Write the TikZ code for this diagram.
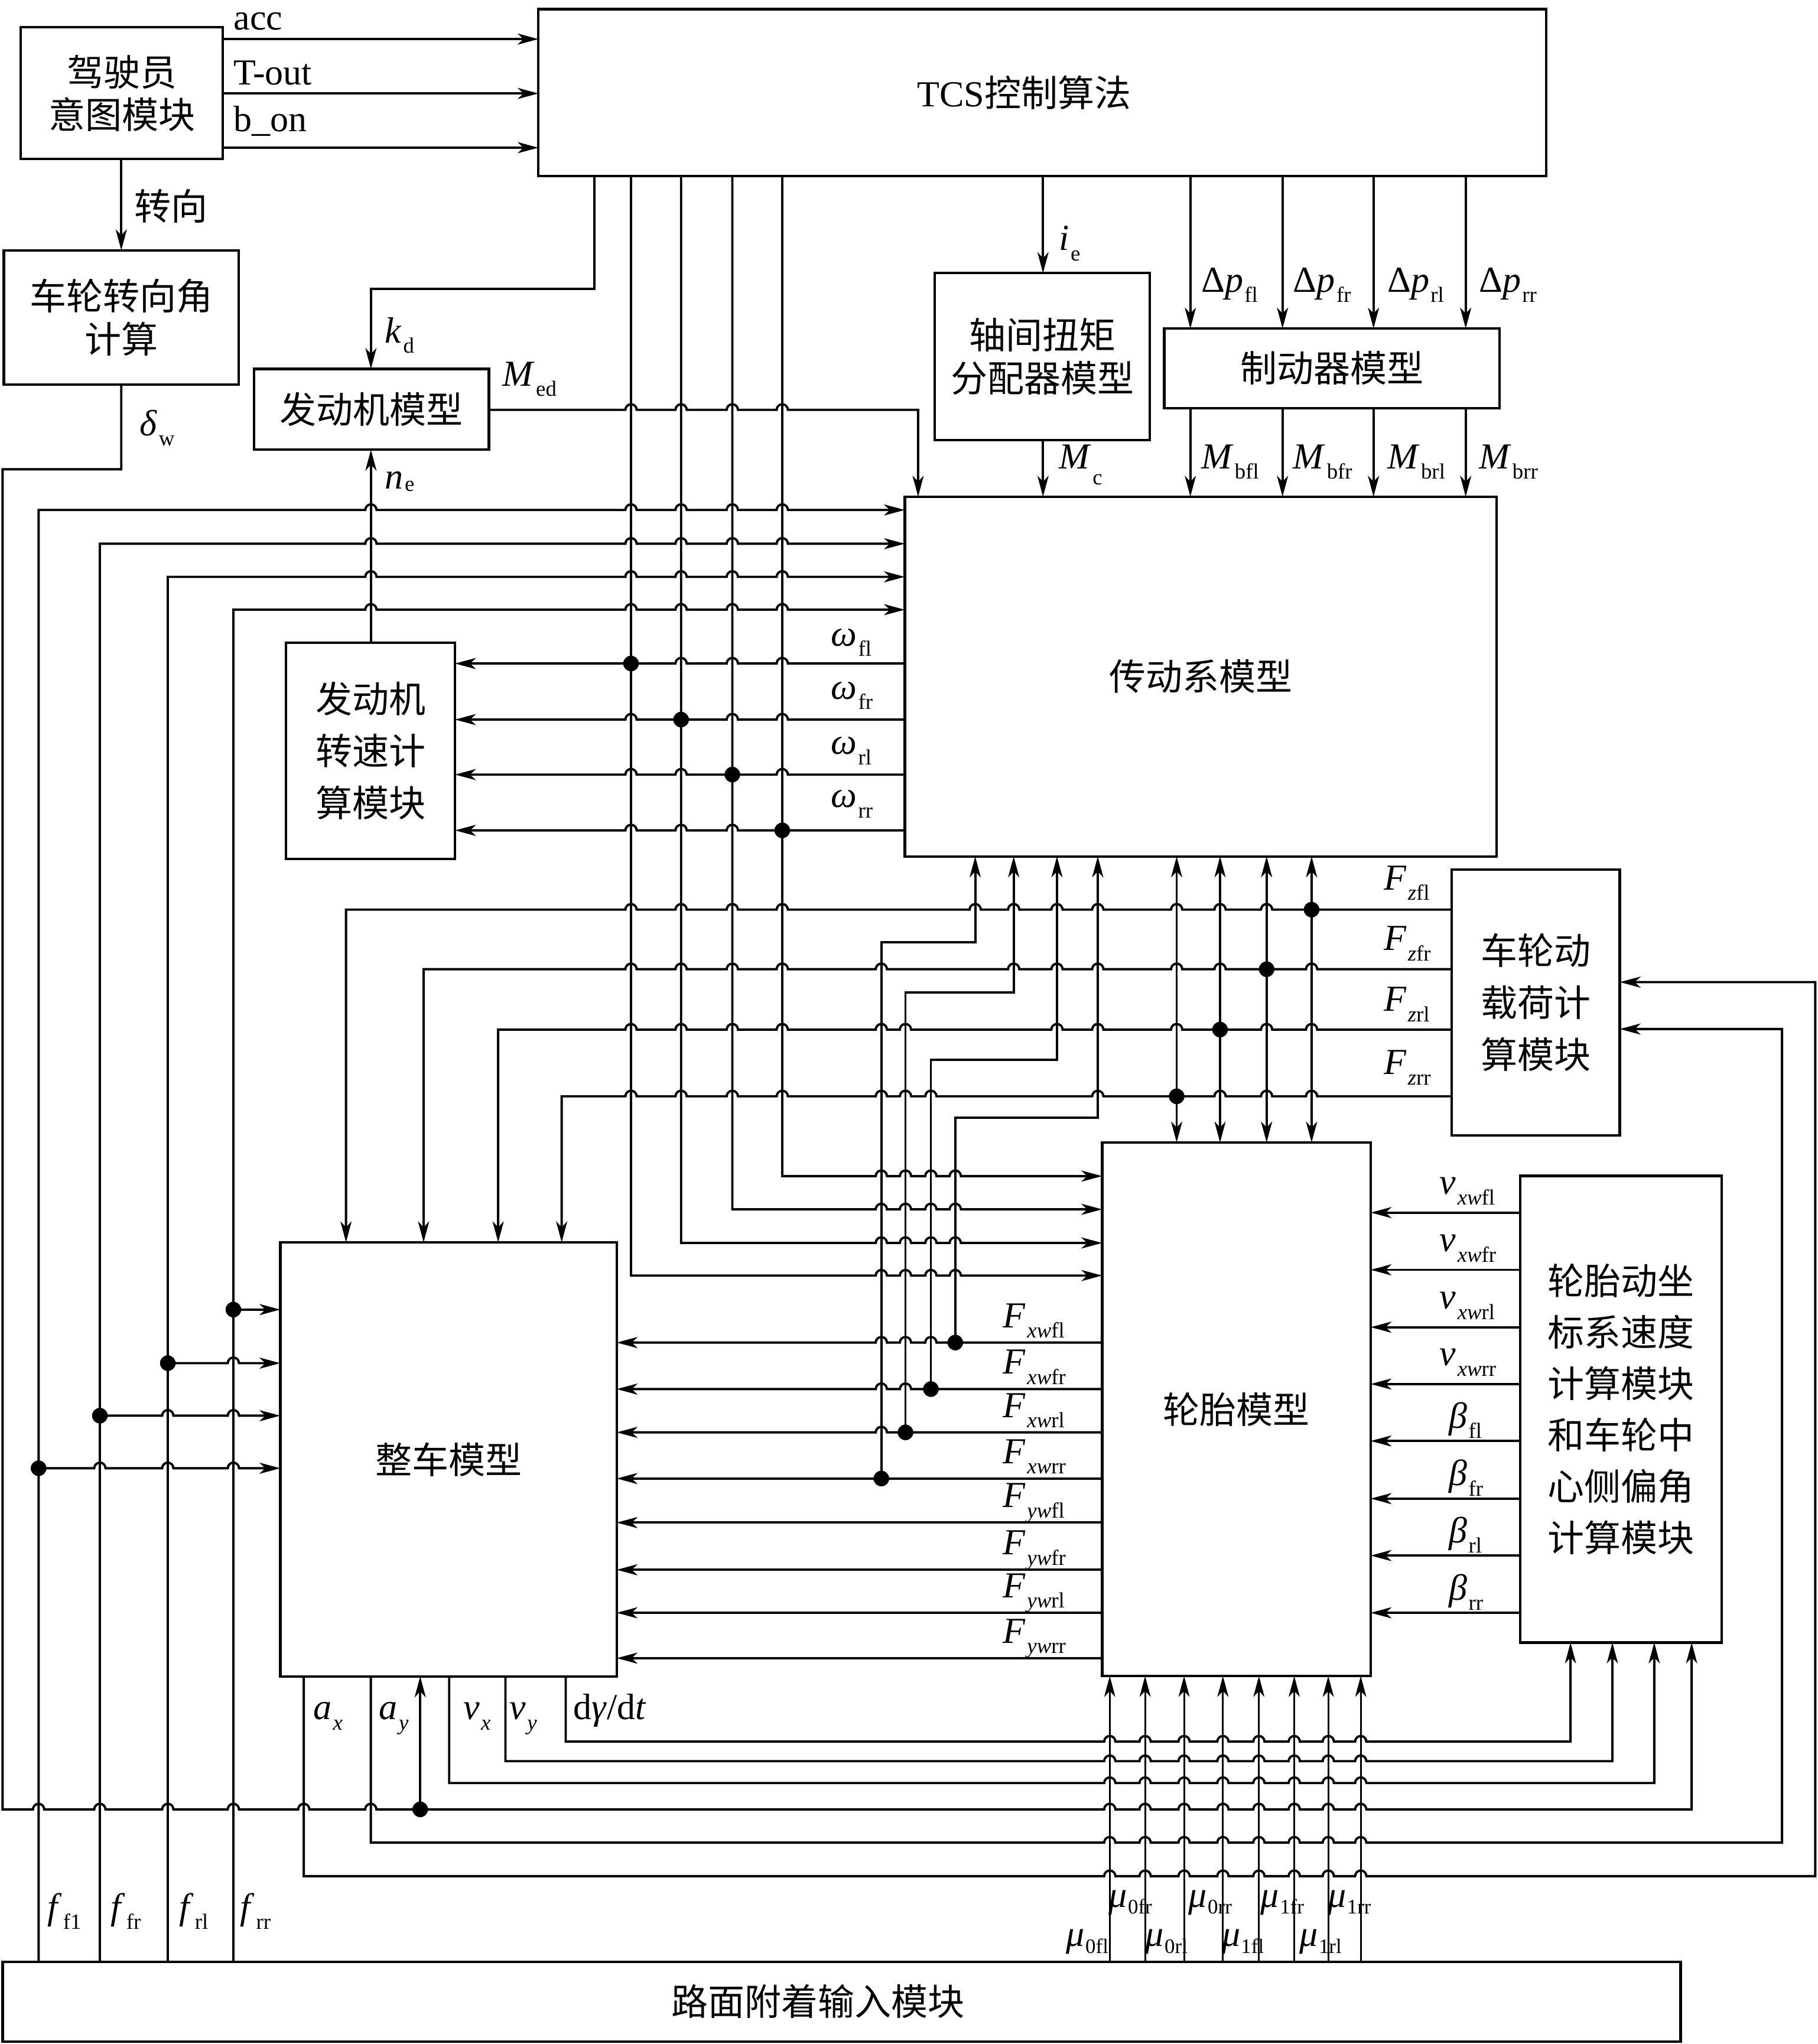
\documentclass[tikz,border=0pt]{standalone}
\usepackage{fontspec}
\setmainfont{Liberation Serif}
\newfontfamily\cjk{Noto Sans CJK SC}
\usetikzlibrary{arrows.meta}
\tikzset{
  ln/.style={line width=1pt},
  thinln/.style={line width=0.75pt},
  >={Stealth[length=0.32cm,width=0.17cm,inset=0.09cm]},
  blk/.style={draw,line width=1.1pt,inner sep=0pt,outer sep=0pt,align=center,
    font=\cjk\fontsize{16}{19}\selectfont},
  bs/.style={font=\cjk\fontsize{16}{#1}\selectfont},
  lbl/.style={inner sep=0pt,font=\fontsize{16}{16}\selectfont},
  cjl/.style={inner sep=0pt,font=\cjk\fontsize{16}{16}\selectfont},
  dotn/.style={circle,fill,inner sep=0pt,minimum size=0.24cm}
}
\newcommand\blk[7][]{\node[blk,minimum width={(#4-#2)*0.02cm},minimum height={(#5-#3)*0.02cm},#1] (#6) at ({(#2+#4)/2},{(#3+#5)/2}) {#7};}
\newcommand\hops[2]{\foreach \hx in {#2} { -- (\hx-4.3,#1) arc[start angle=180,end angle=0,radius=0.086cm] }}
\newcommand\vs[2]{\textit{#1}\kern0.6pt\raisebox{-4.5pt}{\fontsize{9.5}{9.5}\selectfont #2}}
\newcommand\vsl[3]{\textit{#1}\kern0.6pt\raisebox{#3}{\fontsize{9.5}{9.5}\selectfont #2}}
\newcommand\mus[1]{\textit{μ}\kern0.3pt\raisebox{-3pt}{\fontsize{9}{9}\selectfont #1}}
\begin{document}
\begin{tikzpicture}[x=0.02cm,y=-0.02cm]
\fill[white] (0,0) rectangle (1394,1568);
\useasboundingbox (0,0) rectangle (1394,1568);

% ---------- blocks ----------
\blk[bs=18.7]{16}{21}{171}{122}{drv}{驾驶员\\意图模块}
\blk{413}{7}{1186}{135}{tcs}{{\rmfamily TCS}控制算法\hspace*{0.56cm}}
\blk[bs=18.7]{3}{192}{183}{295}{whl}{车轮转向角\\计算}
\blk{195}{283}{375}{345}{eng}{发动机模型}
\blk[bs=18.7]{717}{209.5}{882}{337.5}{axl}{轴间扭矩\\分配器模型}
\blk{893}{252}{1150}{313}{brk}{制动器模型}
\blk{694}{381}{1148}{657}{drt}{传动系模型}
\blk[bs=22.7]{219.4}{493}{349}{659}{esp}{发动机\\转速计\\算模块}
\blk{215}{953}{473}{1286}{veh}{整车模型}
\blk{845.4}{876.4}{1051.3}{1285.7}{tire}{轮胎模型}
\blk[bs=22.7]{1113.5}{667}{1242.4}{871}{load}{车轮动\\载荷计\\算模块}
\blk[bs=22.4]{1166}{902}{1320.6}{1260}{kin}{轮胎动坐\\标系速度\\计算模块\\和车轮中\\心侧偏角\\计算模块}
\blk{2}{1505}{1289}{1566}{road}{路面附着输入模块\hspace*{0.72cm}}

% ---------- driver -> TCS ----------
\foreach \yy in {30,71.7,113.3} \draw[ln,->] (drv.east |- 0,\yy) -- (tcs.west |- 0,\yy);
\draw[ln,->] (93,0 |- drv.south) -- (93,0 |- whl.north);

% ---------- delta_w loop ----------
\draw[ln,->] (93,0 |- whl.south) -- (93,360) -- (2,360) -- (2,1388)
  \hops{1388}{29.6,76.6,128.7,179,233,284.4,851.2,878.3,908.2,938,965.6,992.7,1018.8,1043.7}
  -- (1297.5,1388) -- (1297.5,0 |- kin.south);
\node[dotn] (dw) at (322.3,1388) {};
\draw[ln,->] (dw.center) -- (322.3,0 |- veh.south);

% ---------- engine ----------
\draw[ln,->] (456,0 |- tcs.south) -- (456,221.7) -- (284.5,221.7) -- (284.5,0 |- eng.north);
\draw[ln,->] (eng.east |- 0,314.4) \hops{314.4}{484,522.4,561.7,600} -- (704.2,314.4) -- (704.2,0 |- drt.north);
\draw[ln,->] (284.5,0 |- esp.north) -- (284.5,0 |- eng.south);

% ---------- axle / brake ----------
\draw[ln,->] (800,0 |- tcs.south) -- (800,0 |- axl.north);
\draw[ln,->] (800,0 |- axl.south) -- (800,0 |- drt.north);
\foreach \xx in {913,983.7,1053.5,1124.2} {
  \draw[ln,->] (\xx,0 |- tcs.south) -- (\xx,0 |- brk.north);
  \draw[ln,->] (\xx,0 |- brk.south) -- (\xx,0 |- drt.north);
}

% ---------- wheel speeds: TCS -> tyre ----------
\draw[ln,->] (484,0 |- tcs.south) -- (484,978.5) \hops{978.5}{676,694.5,714,732.7} -- (tire.west |- 0,978.5);
\draw[ln,->] (522.4,0 |- tcs.south) -- (522.4,953.5) \hops{953.5}{676,694.5,714,732.7} -- (tire.west |- 0,953.5);
\draw[ln,->] (561.7,0 |- tcs.south) -- (561.7,927.7) \hops{927.7}{676,694.5,714,732.7} -- (tire.west |- 0,927.7);
\draw[ln,->] (600,0 |- tcs.south) -- (600,902.2) \hops{902.2}{676,694.5,714,732.7} -- (tire.west |- 0,902.2);

% ---------- omega -> engine speed block ----------
\draw[ln,<-] (esp.east |- 0,509) \hops{509}{522.4,561.7,600} -- (drt.west |- 0,509);
\draw[ln,<-] (esp.east |- 0,552) \hops{552}{484,561.7,600} -- (drt.west |- 0,552);
\draw[ln,<-] (esp.east |- 0,594.2) \hops{594.2}{484,522.4,600} -- (drt.west |- 0,594.2);
\draw[ln,<-] (esp.east |- 0,637) \hops{637}{484,522.4,561.7} -- (drt.west |- 0,637);
\node[dotn] (dw1) at (484,509) {};
\node[dotn] (dw2) at (522.4,552) {};
\node[dotn] (dw3) at (561.7,594.2) {};
\node[dotn] (dw4) at (600,637) {};

% ---------- road friction f lines ----------
\draw[ln,->] (29.6,0 |- road.north) -- (29.6,391.2) \hops{391.2}{284.5,484,522.4,561.7,600} -- (drt.west |- 0,391.2);
\draw[ln,->] (76.6,0 |- road.north) -- (76.6,417.1) \hops{417.1}{284.5,484,522.4,561.7,600} -- (drt.west |- 0,417.1);
\draw[ln,->] (128.7,0 |- road.north) -- (128.7,442.5) \hops{442.5}{284.5,484,522.4,561.7,600} -- (drt.west |- 0,442.5);
\draw[ln,->] (179,0 |- road.north) -- (179,467.7) \hops{467.7}{284.5,484,522.4,561.7,600} -- (drt.west |- 0,467.7);
\node[dotn] (df4) at (179,1004.6) {};
\node[dotn] (df3) at (128.7,1045.7) {};
\node[dotn] (df2) at (76.6,1086) {};
\node[dotn] (df1) at (29.6,1126.3) {};
\draw[ln,->] (df4.center) -- (veh.west |- 0,1004.6);
\draw[ln,->] (df3.center) \hops{1045.7}{179} -- (veh.west |- 0,1045.7);
\draw[ln,->] (df2.center) \hops{1086}{128.7,179} -- (veh.west |- 0,1086);
\draw[ln,->] (df1.center) \hops{1126.3}{76.6,128.7,179} -- (veh.west |- 0,1126.3);

% ---------- vertical loads ----------
\draw[ln,<-] (265.4,0 |- veh.north) -- (265.4,697.8) \hops{697.8}{484,522.4,561.7,600,748,777.5,810.7,842,902.5,935.8,971.5} -- (load.west |- 0,697.8);
\draw[ln,<-] (324.9,0 |- veh.north) -- (324.9,743.5) \hops{743.5}{484,522.4,561.7,600,676,777.5,810.7,842,902.5,935.8,1006} -- (load.west |- 0,743.5);
\draw[ln,<-] (382.1,0 |- veh.north) -- (382.1,789.8) \hops{789.8}{484,522.4,561.7,600,676,694.5,810.7,842,902.5,971.5,1006} -- (load.west |- 0,789.8);
\draw[ln,<-] (430.8,0 |- veh.north) -- (430.8,841) \hops{841}{484,522.4,561.7,600,676,694.5,714,842,935.8,971.5,1006} -- (load.west |- 0,841);
\node[dotn] (dz1) at (1006,697.8) {};
\node[dotn] (dz2) at (971.5,743.5) {};
\node[dotn] (dz3) at (935.8,789.8) {};
\node[dotn] (dz4) at (902.5,841) {};
\foreach \xx in {902.5,935.8,971.5,1006} \draw[ln,<->] (\xx,0 |- drt.south) -- (\xx,0 |- tire.north);

% ---------- tyre forces ----------
\draw[ln,<-] (veh.east |- 0,1029.9) \hops{1029.9}{676,694.5,714} -- (tire.west |- 0,1029.9);
\draw[ln,<-] (veh.east |- 0,1065.6) \hops{1065.6}{676,694.5} -- (tire.west |- 0,1065.6);
\draw[ln,<-] (veh.east |- 0,1098.8) \hops{1098.8}{676} -- (tire.west |- 0,1098.8);
\draw[ln,<-] (veh.east |- 0,1134.2) -- (tire.west |- 0,1134.2);
\foreach \yy in {1168,1204.2,1237.2,1272} \draw[ln,<-] (veh.east |- 0,\yy) -- (tire.west |- 0,\yy);
\node[dotn] (dx1) at (732.7,1029.9) {};
\node[dotn] (dx2) at (714,1065.6) {};
\node[dotn] (dx3) at (694.5,1098.8) {};
\node[dotn] (dx4) at (676,1134.2) {};
\draw[ln,->] (dx4.center) -- (676,722.7) -- (748,722.7) -- (748,0 |- drt.south);
\draw[ln,->] (dx3.center) -- (694.5,761.5) -- (777.5,761.5) -- (777.5,0 |- drt.south);
\draw[ln,->] (dx2.center) -- (714,813.1) -- (810.7,813.1) -- (810.7,0 |- drt.south);
\draw[ln,->] (dx1.center) -- (732.7,857.6) -- (842,857.6) -- (842,0 |- drt.south);

% ---------- kinematics -> tyre ----------
\foreach \yy in {930.2,974.1,1018.1,1061.7,1105.4,1149.6,1193.3,1237.2} \draw[ln,->] (kin.west |- 0,\yy) -- (tire.east |- 0,\yy);

% ---------- vehicle outputs ----------
\draw[ln,->] (233,0 |- veh.south) -- (233,1439.2) \hops{1439.2}{851.2,878.3,908.2,938,965.6,992.7,1018.8,1043.7} -- (1392.3,1439.2) -- (1392.3,753.4) -- (load.east |- 0,753.4);
\draw[ln,->] (284.4,0 |- veh.south) -- (284.4,1413.5) \hops{1413.5}{851.2,878.3,908.2,938,965.6,992.7,1018.8,1043.7} -- (1366.8,1413.5) -- (1366.8,789.4) -- (load.east |- 0,789.4);
\draw[ln,->] (344.5,0 |- veh.south) -- (344.5,1367.8) \hops{1367.8}{851.2,878.3,908.2,938,965.6,992.7,1018.8,1043.7} -- (1268.8,1367.8) -- (1268.8,0 |- kin.south);
\draw[ln,->] (387.7,0 |- veh.south) -- (387.7,1351) \hops{1351}{851.2,878.3,908.2,938,965.6,992.7,1018.8,1043.7} -- (1236.7,1351) -- (1236.7,0 |- kin.south);
\draw[ln,->] (433.9,0 |- veh.south) -- (433.9,1336) \hops{1336}{851.2,878.3,908.2,938,965.6,992.7,1018.8,1043.7} -- (1204.6,1336) -- (1204.6,0 |- kin.south);

% ---------- friction coefficients ----------
\foreach \xx in {851.2,878.3,908.2,938,965.6,992.7,1018.8,1043.7} \draw[thinln,->] (\xx,0 |- road.north) -- (\xx,0 |- tire.south);

% ---------- labels ----------
\node[lbl,anchor=base west] (lacc) at (179,23) {acc};
\node[lbl,anchor=base west] (lto) at (179,65) {T-out};
\node[lbl,anchor=base west] (lbo) at (179,101) {b\_on};
\node[cjl] (lzx) at (131,158) {转向};
\node[lbl,anchor=base west] (ldw) at (107,334) {\vs{δ}{w}};
\node[lbl,anchor=base west] (lkd) at (295,263) {\vs{k}{d}};
\node[lbl,anchor=base west] (lmed) at (385,296) {\vs{M}{ed}};
\node[lbl,anchor=base west] (lne) at (295,375) {\vsl{n}{e}{-1pt}};
\node[lbl,anchor=base west] (lie) at (812,192) {\vs{i}{e}};
\node[lbl,anchor=base west] (lmc) at (812,359.5) {\vsl{M}{c}{-7pt}};
\node[lbl,anchor=base west] (lp1) at (921,224) {Δ\vs{p}{fl}};
\node[lbl,anchor=base west] (lp2) at (991.6,224) {Δ\vs{p}{fr}};
\node[lbl,anchor=base west] (lp3) at (1063.8,224) {Δ\vs{p}{rl}};
\node[lbl,anchor=base west] (lp4) at (1134,224) {Δ\vs{p}{rr}};
\node[lbl,anchor=base west] (lm1) at (921,359.5) {\vs{M}{bfl}};
\node[lbl,anchor=base west] (lm2) at (991.6,359.5) {\vs{M}{bfr}};
\node[lbl,anchor=base west] (lm3) at (1063.8,359.5) {\vs{M}{brl}};
\node[lbl,anchor=base west] (lm4) at (1134,359.5) {\vs{M}{brr}};
\node[lbl,anchor=base west] (lw1) at (637,495.5) {\vs{ω}{fl}};
\node[lbl,anchor=base west] (lw2) at (637,536.3) {\vs{ω}{fr}};
\node[lbl,anchor=base west] (lw3) at (637,578.6) {\vs{ω}{rl}};
\node[lbl,anchor=base west] (lw4) at (637,619.4) {\vs{ω}{rr}};
\node[lbl,anchor=base west] (lz1) at (1061,682.6) {\vs{F}{\textit{z}fl}};
\node[lbl,anchor=base west] (lz2) at (1061,729.1) {\vs{F}{\textit{z}fr}};
\node[lbl,anchor=base west] (lz3) at (1061,775.7) {\vs{F}{\textit{z}rl}};
\node[lbl,anchor=base west] (lz4) at (1061,824.2) {\vs{F}{\textit{z}rr}};
\node[lbl,anchor=base west] (lfx1) at (769,1018.3) {\vs{F}{\textit{xw}fl}};
\node[lbl,anchor=base west] (lfx2) at (769,1054) {\vs{F}{\textit{xw}fr}};
\node[lbl,anchor=base west] (lfx3) at (769,1087.2) {\vs{F}{\textit{xw}rl}};
\node[lbl,anchor=base west] (lfx4) at (769,1122.6) {\vs{F}{\textit{xw}rr}};
\node[lbl,anchor=base west] (lfy1) at (769,1156.4) {\vs{F}{\textit{yw}fl}};
\node[lbl,anchor=base west] (lfy2) at (769,1192.6) {\vs{F}{\textit{yw}fr}};
\node[lbl,anchor=base west] (lfy3) at (769,1225.6) {\vs{F}{\textit{yw}rl}};
\node[lbl,anchor=base west] (lfy4) at (769,1260.4) {\vs{F}{\textit{yw}rr}};
\node[lbl,anchor=base west] (lv1) at (1104,916.2) {\vs{v}{\textit{xw}fl}};
\node[lbl,anchor=base west] (lv2) at (1104,960.1) {\vs{v}{\textit{xw}fr}};
\node[lbl,anchor=base west] (lv3) at (1104,1004.1) {\vs{v}{\textit{xw}rl}};
\node[lbl,anchor=base west] (lv4) at (1104,1047.7) {\vs{v}{\textit{xw}rr}};
\node[lbl,anchor=base west] (lb1) at (1111,1095.4) {\vs{β}{fl}};
\node[lbl,anchor=base west] (lb2) at (1111,1139.6) {\vs{β}{fr}};
\node[lbl,anchor=base west] (lb3) at (1111,1183.3) {\vs{β}{rl}};
\node[lbl,anchor=base west] (lb4) at (1111,1227.2) {\vs{β}{rr}};
\node[lbl,anchor=base west] (lax) at (240,1319) {\vs{a}{\textit{x}}};
\node[lbl,anchor=base west] (lay) at (290.5,1319) {\vs{a}{\textit{y}}};
\node[lbl,anchor=base west] (lvx) at (355,1319) {\vs{v}{\textit{x}}};
\node[lbl,anchor=base west] (lvy) at (390.5,1319) {\vs{v}{\textit{y}}};
\node[lbl,anchor=base west] (ldg) at (439.6,1319) {d\textit{γ}/d\textit{t}};
\node[lbl,anchor=base west] (lf1) at (36,1472) {\vs{f}{f1}};
\node[lbl,anchor=base west] (lf2) at (84.5,1472) {\vs{f}{fr}};
\node[lbl,anchor=base west] (lf3) at (137,1472) {\vs{f}{rl}};
\node[lbl,anchor=base west] (lf4) at (184,1472) {\vs{f}{rr}};
\node[lbl,anchor=base west] (lu1) at (850.2,1463) {\mus{0fr}};
\node[lbl,anchor=base west] (lu2) at (911.4,1463) {\mus{0rr}};
\node[lbl,anchor=base west] (lu3) at (966.7,1463) {\mus{1fr}};
\node[lbl,anchor=base west] (lu4) at (1018.2,1463) {\mus{1rr}};
\node[lbl,anchor=base west] (lu5) at (817.6,1493) {\mus{0fl}};
\node[lbl,anchor=base west] (lu6) at (878.3,1493) {\mus{0rl}};
\node[lbl,anchor=base west] (lu7) at (936.9,1493) {\mus{1fl}};
\node[lbl,anchor=base west] (lu8) at (996.5,1493) {\mus{1rl}};
\end{tikzpicture}
\end{document}
